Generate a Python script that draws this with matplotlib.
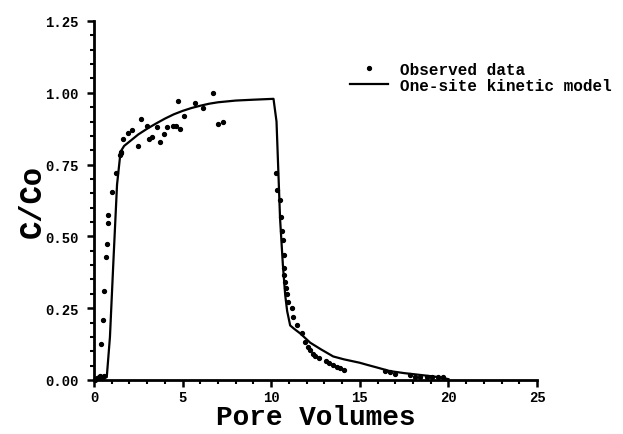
import matplotlib
matplotlib.use("Agg")
import matplotlib.pyplot as plt
from matplotlib.ticker import MultipleLocator, FormatStrFormatter

# observed breakthrough data (pore volumes, C/Co)
obs_pv = [0.05, 0.15, 0.3, 0.45, 0.55, 0.34, 0.4, 0.53, 0.58, 0.66, 0.72, 0.77, 0.81,
          1.0, 1.22, 1.45, 1.5, 1.52, 1.66, 1.94, 2.13, 2.47, 2.66, 3.0, 3.13, 3.3,
          3.54, 3.73, 3.95, 4.1, 4.48, 4.6, 4.73, 4.86, 5.1, 5.7, 6.14, 6.7, 6.97, 7.3,
          10.26, 10.32, 10.47, 10.54, 10.6, 10.64, 10.7, 10.7, 10.73, 10.8, 10.85, 10.9,
          10.95, 11.17, 11.25, 11.45, 11.73, 11.9, 12.1, 12.2, 12.35, 12.49, 12.67,
          13.1, 13.24, 13.5, 13.7, 13.9, 14.1, 16.4, 16.7, 17.0, 17.85, 18.1, 18.4,
          18.8, 19.1, 19.4, 19.7]
obs_c = [0.0, 0.007, 0.012, 0.006, 0.015, 0.013, 0.126, 0.21, 0.31, 0.43, 0.475, 0.545, 0.576,
         0.655, 0.72, 0.785, 0.795, 0.79, 0.84, 0.86, 0.87, 0.815, 0.91, 0.883, 0.838, 0.845,
         0.88, 0.828, 0.856, 0.88, 0.884, 0.886, 0.97, 0.875, 0.92, 0.964, 0.947, 1.0, 0.89, 0.9,
         0.72, 0.66, 0.626, 0.568, 0.52, 0.487, 0.435, 0.39, 0.366, 0.34, 0.32, 0.3,
         0.27, 0.25, 0.22, 0.19, 0.163, 0.134, 0.115, 0.105, 0.092, 0.082, 0.076,
         0.065, 0.059, 0.053, 0.047, 0.042, 0.036, 0.03, 0.027, 0.022, 0.017, 0.012, 0.009,
         0.012, 0.011, 0.01, 0.009]

# one-site kinetic model curve
model_pv = [0.0, 0.72, 0.9, 1.1, 1.3, 1.5, 1.7, 2.0, 2.5, 3.0, 3.5, 4.0, 4.5, 5.0, 5.5,
            6.0, 6.5, 7.0, 7.5, 8.0, 9.0, 10.13, 10.3, 10.5, 10.66, 10.79, 10.9, 11.07,
            11.3, 11.64, 12.2, 12.8, 13.5, 14.1, 15.0, 15.4, 16.0, 16.7, 17.5, 18.5,
            19.2, 19.7, 20.0]
model_c = [0.0, 0.01, 0.15, 0.42, 0.68, 0.795, 0.815, 0.83, 0.855, 0.875, 0.893, 0.91,
           0.925, 0.937, 0.947, 0.955, 0.962, 0.967, 0.970, 0.973, 0.976, 0.979, 0.90,
           0.5625, 0.40, 0.296, 0.24, 0.19, 0.178, 0.162, 0.13, 0.107, 0.082, 0.072,
           0.06, 0.053, 0.043, 0.031, 0.024, 0.017, 0.012, 0.007, 0.003]

mono = "Liberation Mono"

fig = plt.figure(figsize=(6.23, 4.35), dpi=100)
ax = fig.add_axes([94 / 623, 54 / 435, 443 / 623, 359 / 435])

ax.plot(obs_pv, obs_c, "o", color="black", markersize=2.8, label="Observed data",
        clip_on=False)
ax.plot(model_pv, model_c, "-", color="black", linewidth=1.6,
        label="One-site kinetic model")

ax.set_xlim(0, 25)
ax.set_ylim(0, 1.25)
ax.xaxis.set_major_locator(MultipleLocator(5))
ax.xaxis.set_minor_locator(MultipleLocator(1))
ax.yaxis.set_major_locator(MultipleLocator(0.25))
ax.yaxis.set_minor_locator(MultipleLocator(0.05))
ax.yaxis.set_major_formatter(FormatStrFormatter("%.2f"))

for side in ("top", "right"):
    ax.spines[side].set_visible(False)
for side in ("left", "bottom"):
    ax.spines[side].set_linewidth(2.0)

ax.tick_params(which="major", direction="out", length=5, width=1.8, pad=2)
ax.tick_params(which="minor", direction="out", length=3, width=1.5)
ax.tick_params(axis="y", which="major", pad=6)
for lbl in ax.get_xticklabels() + ax.get_yticklabels():
    lbl.set_fontfamily(mono)
    lbl.set_fontweight("bold")
    lbl.set_fontsize(10)

ax.set_xlabel("Pore Volumes", fontfamily=mono, fontweight="bold", fontsize=20,
              labelpad=0)
ax.set_ylabel("C/Co", fontfamily=mono, fontweight="bold", fontsize=22, labelpad=-2)

ax.legend(loc="upper left", bbox_to_anchor=(350 / 623, 1 - 63 / 435),
          bbox_transform=fig.transFigure, frameon=False, borderpad=0,
          borderaxespad=0, handlelength=2.4, handletextpad=0.7, labelspacing=0.05,
          prop={"family": mono, "weight": "bold", "size": 11.5})

fig.savefig("out.png", dpi=100)
